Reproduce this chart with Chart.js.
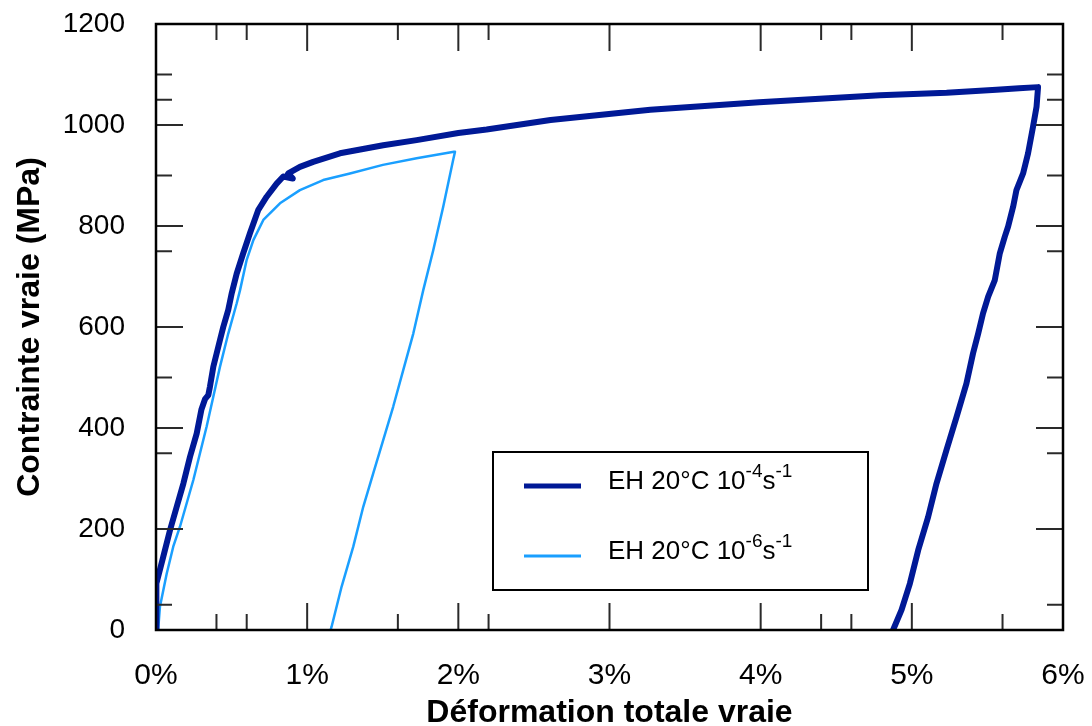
<!DOCTYPE html>
<html>
<head>
<meta charset="utf-8">
<script src="https://cdn.jsdelivr.net/npm/chart.js@4"></script>
<style>
  html, body { margin: 0; padding: 0; background: #fff; }
</style>
</head>
<body>
<canvas id="StressChart" width="1092" height="726"></canvas>
<script>
// strain in %, stress in MPa
const fastStrain = [0, 0, 0.005, 0.048, 0.093, 0.137, 0.181, 0.225, 0.269, 0.30, 0.324, 0.346, 0.357, 0.379, 0.423, 0.445, 0.478, 0.501, 0.534, 0.577, 0.622, 0.677, 0.732, 0.798, 0.842, 0.905, 0.875, 0.952, 1.04, 1.217, 1.503, 1.724, 2.0, 2.187, 2.61, 3.27, 3.99, 4.79, 5.23, 5.56, 5.71, 5.835,
  5.825, 5.802, 5.769, 5.736, 5.692, 5.670, 5.637, 5.615, 5.582, 5.549, 5.505, 5.471, 5.439, 5.405, 5.361, 5.296, 5.229, 5.163, 5.108, 5.042, 4.987, 4.932, 4.876];
const fastStress = [0, 40, 92, 145, 198, 244, 290, 343, 389, 436, 457, 465, 482, 521, 574, 600, 634, 667, 706, 746, 786, 832, 858, 884, 898, 894, 904, 917, 927, 944, 960, 970, 984, 991, 1010, 1030, 1045, 1059, 1064, 1070, 1073, 1075,
  1036, 997, 944, 904, 871, 838, 799, 779, 746, 693, 660, 627, 587, 548, 488, 422, 356, 290, 224, 158, 92, 40, 0];

const slowStrain = [0, 0.015, 0.026, 0.071, 0.114, 0.159, 0.203, 0.247, 0.291, 0.335, 0.379, 0.423, 0.478, 0.534, 0.556, 0.600, 0.644, 0.710, 0.820, 0.952, 1.106, 1.283, 1.501, 1.724, 1.971, 1.978,
  1.966, 1.900, 1.834, 1.768, 1.702, 1.636, 1.569, 1.503, 1.437, 1.371, 1.305, 1.228, 1.162, 1.155];
const slowStress = [0, 3, 46, 112, 165, 205, 251, 297, 350, 403, 462, 521, 587, 647, 673, 733, 772, 812, 845, 871, 891, 904, 921, 934, 947, 947,
  931, 838, 752, 673, 587, 515, 442, 376, 310, 244, 165, 86, 7, 0];

const seriesLabels = [['EH 20°C 10', '-4', 's', '-1'], ['EH 20°C 10', '-6', 's', '-1']];
const seriesColors = ['#001996', '#1a9fff'];

const xMajor = [1, 2, 3, 4, 5];
const xMinor = [0.4, 0.6, 1.6, 2.2, 4.4, 4.6, 5.6];
const yMajor = [200, 400, 600, 800, 1000];
const yMinor = [50, 350, 500, 750, 900, 1050, 1100];

const FONT = '"Liberation Sans", Arial, sans-serif';

const toPoints = (xs, ys) => xs.map((x, i) => ({x: x, y: ys[i]}));

// box round the plot with ticks pointing inward on all four sides
const framePlugin = {
  id: 'frame',
  afterDatasetsDraw(chart) {
    const {ctx, chartArea: a, scales: {x, y}} = chart;
    ctx.save();
    ctx.strokeStyle = '#2a2a2a';
    ctx.lineWidth = 2;
    const tick = (list, len, isX) => {
      list.forEach(v => {
        ctx.beginPath();
        if (isX) {
          const px = x.getPixelForValue(v);
          ctx.moveTo(px, a.bottom); ctx.lineTo(px, a.bottom - len);
          ctx.moveTo(px, a.top); ctx.lineTo(px, a.top + len);
        } else {
          const py = y.getPixelForValue(v);
          ctx.moveTo(a.left, py); ctx.lineTo(a.left + len, py);
          ctx.moveTo(a.right, py); ctx.lineTo(a.right - len, py);
        }
        ctx.stroke();
      });
    };
    tick(xMajor, 27, true);
    tick(xMinor, 16, true);
    tick(yMajor, 27, false);
    tick(yMinor, 16, false);
    ctx.strokeStyle = '#000';
    ctx.lineWidth = 2.5;
    ctx.strokeRect(a.left, a.top, a.right - a.left, a.bottom - a.top);
    ctx.restore();
  }
};

// legend box inside the plot, with superscripts
const boxLegend = {
  id: 'boxLegend',
  afterDraw(chart) {
    const {ctx, chartArea: a} = chart;
    const bx = a.left + 337, by = a.top + 428, bw = 375, bh = 138;
    ctx.save();
    ctx.fillStyle = '#fff';
    ctx.fillRect(bx, by, bw, bh);
    ctx.strokeStyle = '#000';
    ctx.lineWidth = 2;
    ctx.strokeRect(bx, by, bw, bh);
    chart.data.datasets.forEach((ds, i) => {
      const ly = by + 34 + i * 70;
      ctx.strokeStyle = ds.borderColor;
      ctx.lineWidth = i === 0 ? 5 : 3;
      ctx.beginPath();
      ctx.moveTo(bx + 31, ly); ctx.lineTo(bx + 88, ly);
      ctx.stroke();
      ctx.fillStyle = '#000';
      ctx.textBaseline = 'alphabetic';
      let tx = bx + 115;
      const base = ly + 3;
      seriesLabels[i].forEach((part, k) => {
        const sup = k % 2 === 1;
        ctx.font = (sup ? '19px ' : '26px ') + FONT;
        ctx.fillText(part, tx, sup ? base - 12 : base);
        tx += ctx.measureText(part).width;
      });
    });
    ctx.restore();
  }
};

const ctx = document.getElementById('StressChart');

new Chart(ctx, {
  type: 'line',
  data: {
    datasets: [{
      label: seriesLabels[0].join(''),
      data: toPoints(fastStrain, fastStress),
      borderColor: seriesColors[0],
      borderWidth: 6,
      pointRadius: 0,
      borderJoinStyle: 'round',
      borderCapStyle: 'round',
      tension: 0
    }, {
      label: seriesLabels[1].join(''),
      data: toPoints(slowStrain, slowStress),
      borderColor: seriesColors[1],
      borderWidth: 2.5,
      pointRadius: 0,
      borderJoinStyle: 'round',
      tension: 0
    }]
  },
  options: {
    responsive: false,
    animation: false,
    layout: { padding: { top: 24, right: 29, left: 0, bottom: 0 } },
    plugins: { legend: { display: false }, tooltip: { enabled: false } },
    scales: {
      x: {
        type: 'linear',
        min: 0,
        max: 6,
        grid: { display: false, drawTicks: false },
        border: { display: false },
        ticks: {
          stepSize: 1,
          autoSkip: false,
          maxRotation: 0,
          padding: 28,
          color: '#000',
          font: { family: FONT, size: 30 },
          callback: v => v + '%'
        },
        title: {
          display: true,
          text: 'Déformation totale vraie',
          color: '#000',
          padding: { top: 0, bottom: 0 },
          font: { family: FONT, size: 32, weight: 'bold', lineHeight: 0.81 }
        },
        afterFit: s => {
          s.height = 96;
          s.paddingLeft = 0; s.paddingRight = 0;
        }
      },
      y: {
        min: 0,
        max: 1200,
        grid: { display: false, drawTicks: false },
        border: { display: false },
        ticks: {
          stepSize: 200,
          padding: 31,
          color: '#000',
          font: { family: FONT, size: 28 },
          callback: v => String(v)
        },
        title: {
          display: true,
          text: 'Contrainte vraie (MPa)',
          color: '#000',
          padding: { top: 11, bottom: 0 },
          font: { family: FONT, size: 32, weight: 'bold', lineHeight: 1.2 }
        },
        afterFit: s => {
          s.width = 156;
          s.paddingTop = 0; s.paddingBottom = 0;
        }
      }
    }
  },
  plugins: [framePlugin, boxLegend]
});
</script>
</body>
</html>
